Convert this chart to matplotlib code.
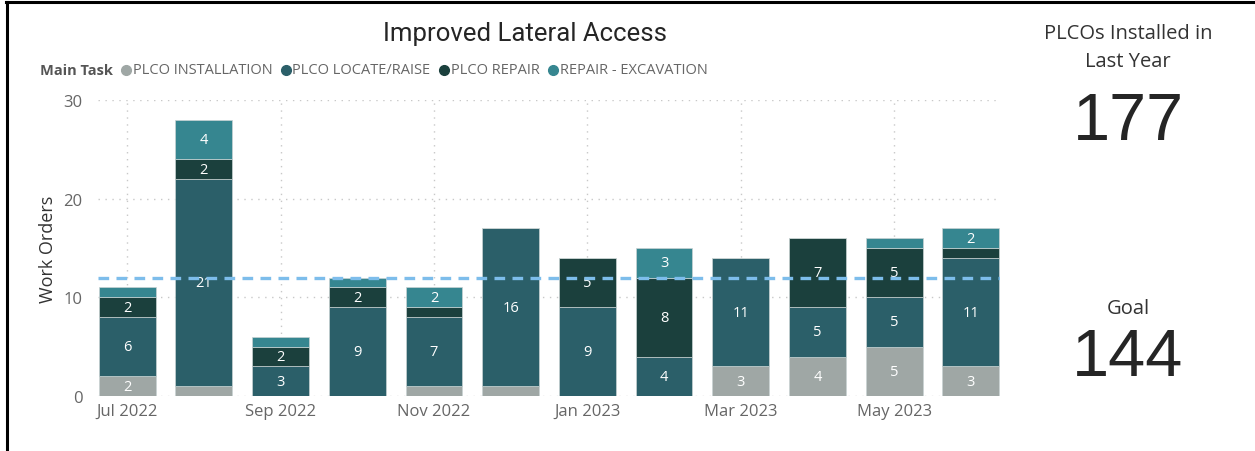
import matplotlib
matplotlib.use("Agg")
import matplotlib.pyplot as plt
from matplotlib.lines import Line2D
import numpy as np

# ---- data ----
months = ["Jul 2022", "Aug 2022", "Sep 2022", "Oct 2022", "Nov 2022", "Dec 2022",
          "Jan 2023", "Feb 2023", "Mar 2023", "Apr 2023", "May 2023", "Jun 2023"]
tasks = ["PLCO INSTALLATION", "PLCO LOCATE/RAISE", "PLCO REPAIR", "REPAIR - EXCAVATION"]
installation = [2, 1, 0, 0, 1, 1, 0, 0, 3, 4, 5, 3]
locate_raise = [6, 21, 3, 9, 7, 16, 9, 4, 11, 5, 5, 11]
repair = [2, 2, 2, 2, 1, 0, 5, 8, 0, 7, 5, 1]
excavation = [1, 4, 1, 1, 2, 0, 0, 3, 0, 0, 1, 2]
goal_line = 12
plcos_installed = 177
goal = 144

COLORS = ["#9FA7A5", "#2B5F69", "#1B403D", "#368690"]
FONT = ["Open Sans", "DejaVu Sans"]
plt.rcParams["font.family"] = FONT

W, H = 1255, 452
fig = plt.figure(figsize=(W / 100, H / 100), dpi=100)
fx = lambda px: px / W
fy = lambda py: 1 - py / H

# frame lines (top + left)
fig.add_artist(Line2D([fx(6), 1], [fy(3), fy(3)], color="black", lw=2.2))
fig.add_artist(Line2D([fx(7), fx(7)], [fy(3), 0], color="black", lw=2.2))

ax = fig.add_axes([fx(98), fy(397), fx(1000) - fx(98), fy(101) - fy(397)])
x = np.arange(len(months))
series = [installation, locate_raise, repair, excavation]
bottom = np.zeros(len(months))
for vals, col in zip(series, COLORS):
    vals = np.array(vals, dtype=float)
    ax.bar(x, vals, width=0.74, bottom=bottom, color=col,
           edgecolor="#c9d3d3", linewidth=0.5, zorder=3)
    for xi, b, v in zip(x, bottom, vals):
        if v >= 2:
            ax.text(xi, b + v / 2, f"{int(v)}", ha="center", va="center",
                    color="white", fontsize=10.5, zorder=4)
    bottom += vals

ax.axhline(goal_line, color="#7DBDEB", lw=2.4, ls=(0, (3.2, 2.2)), zorder=5)

ax.set_xlim(-0.38, 11.38)
ax.set_ylim(0, 30)
ax.set_yticks([0, 10, 20, 30])
ax.set_xticks(x[::2])
ax.set_xticklabels(months[::2])
ax.tick_params(axis="both", length=0, labelsize=12, colors="#666666")
ax.tick_params(axis="x", pad=5)
ax.tick_params(axis="y", pad=11)
for s in ax.spines.values():
    s.set_visible(False)
ax.grid(True, color="#c8c8c8", ls=(0, (1, 4)), lw=1.0, zorder=0)
ax.set_axisbelow(True)
ax.set_ylabel("Work Orders", fontsize=13, color="#333333", labelpad=5)

# title
fig.text(fx(525), fy(34), "Improved Lateral Access", ha="center", va="center",
         fontsize=18.5, color="#252525", family=["Roboto", "DejaVu Sans"])

# legend row, laid out left to right
fig.canvas.draw()
r = fig.canvas.get_renderer()
ly = fy(71)
t = fig.text(fx(40), ly, "Main Task", ha="left", va="center", fontsize=10.5,
             fontweight="bold", color="#555555")
xpos = t.get_window_extent(r).x1
for name, col in zip(tasks, COLORS):
    cx = xpos + 13
    fig.add_artist(Line2D([fx(cx)], [ly], marker="o", ms=7, color=col, lw=0))
    t = fig.text(fx(cx + 7), ly, name, ha="left", va="center", fontsize=10.5,
                 color="#666666")
    xpos = t.get_window_extent(r).x1

# KPI cards on the right
fig.text(fx(1128), fy(34), "PLCOs Installed in", ha="center", va="center",
         fontsize=14.5, color="#333333")
fig.text(fx(1128), fy(62), "Last Year", ha="center", va="center",
         fontsize=14.5, color="#333333")
fig.text(fx(1128), fy(123), f"{plcos_installed}", ha="center", va="center",
         fontsize=48, color="#252525", family=["Liberation Sans", "DejaVu Sans"])
fig.text(fx(1128), fy(309), "Goal", ha="center", va="center",
         fontsize=14.5, color="#333333")
fig.text(fx(1128), fy(359), f"{goal}", ha="center", va="center",
         fontsize=48, color="#252525", family=["Liberation Sans", "DejaVu Sans"])

fig.savefig("out.png", dpi=100)
